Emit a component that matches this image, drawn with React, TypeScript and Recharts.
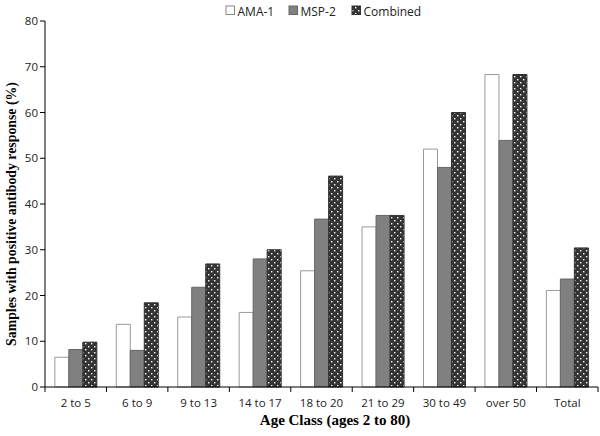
import { Bar, BarChart, Legend, XAxis, YAxis } from 'recharts';

const categories = ['2 to 5', '6 to 9', '9 to 13', '14 to 17', '18 to 20', '21 to 29', '30 to 49', 'over 50', 'Total'];
const ama1 = [6.5, 13.7, 15.3, 16.3, 25.4, 35.0, 52.0, 68.3, 21.1];
const msp2 = [8.2, 8.0, 21.8, 28.0, 36.7, 37.5, 48.0, 53.9, 23.6];
const combined = [9.8, 18.4, 26.9, 30.0, 46.1, 37.5, 60.0, 68.3, 30.4];
const yTicks = [0, 10, 20, 30, 40, 50, 60, 70, 80];

const data = categories.map((name, i) => ({ name, ama1: ama1[i], msp2: msp2[i], combined: combined[i] }));

const W = 600;
const H = 436;
const PLOT_TOP = 5;
const PLOT_BOTTOM = 387;
const PLOT_LEFT = 45;
const PLOT_RIGHT = 598;
const band = (PLOT_RIGHT - PLOT_LEFT) / categories.length;

const tickFont = { fontFamily: '"Open Sans", sans-serif', fontSize: 11.5, fill: '#222' };
const titleFont = { fontFamily: '"Liberation Serif", serif', fontWeight: 'bold' as const, fill: '#000' };

const XTick = (props: any) => {
    const { x, y, payload, index } = props;
    const last = index === categories.length - 1;
    return (
        <g>
            <line x1={x - band / 2} y1={y - 8} x2={x - band / 2} y2={y - 3} stroke="#000" />
            {last && <line x1={x + band / 2} y1={y - 8} x2={x + band / 2} y2={y - 3} stroke="#000" />}
            <text x={x} y={y + 12} textAnchor="middle" {...tickFont}>{payload.value}</text>
        </g>
    );
};

const XLabel = () => (
    <text x={335} y={425} textAnchor="middle" {...titleFont} fontSize={15}>
        Age Class (ages 2 to 80)
    </text>
);

const YLabel = () => {
    const cx = 11;
    const cy = 214;
    return (
        <text x={cx} y={cy} transform={`rotate(-90 ${cx} ${cy})`} textAnchor="middle" dominantBaseline="central" {...titleFont} fontSize={13.8}>
            Samples with positive antibody response (%)
        </text>
    );
};

const legendItems = [
    { label: 'AMA-1', fill: '#fff', stroke: '#888' },
    { label: 'MSP-2', fill: '#808080', stroke: '#666' },
    { label: 'Combined', fill: 'url(#dots)', stroke: '#333' },
];

const LegendContent = () => (
    <svg width={200} height={16}>
        {legendItems.map((it, i) => {
            const x0 = [1, 64, 127][i];
            return (
                <g key={it.label}>
                    <rect x={x0} y={3} width={8.5} height={8.5} fill={it.fill} stroke={it.stroke} />
                    <text x={x0 + 11.5} y={12.5} {...tickFont} fontSize={12}>{it.label}</text>
                </g>
            );
        })}
    </svg>
);

export default function App() {
    return (
        <div style={{ position: 'absolute', left: 0, top: 0, width: W, height: H, background: '#fff' }}>
            <BarChart
                width={W}
                height={H}
                data={data}
                margin={{ top: PLOT_TOP, right: W - PLOT_RIGHT, left: 0, bottom: 0 }}
                barCategoryGap="16%"
                barGap={0}
            >
                <defs>
                    <pattern id="dots" width={6} height={6} patternUnits="userSpaceOnUse">
                        <rect width={6} height={6} fill="#333" />
                        <rect x={1} y={1} width={1.4} height={1.4} fill="#fff" />
                        <rect x={4} y={4} width={1.4} height={1.4} fill="#fff" />
                    </pattern>
                </defs>
                <Legend
                    verticalAlign="top"
                    content={<LegendContent />}
                    wrapperStyle={{ position: 'absolute', top: 3, left: 225, width: 200, height: 16 }}
                />
                <XAxis
                    dataKey="name"
                    height={H - PLOT_BOTTOM}
                    axisLine={{ stroke: '#000' }}
                    tickLine={false}
                    tick={<XTick />}
                    interval={0}
                    label={<XLabel />}
                />
                <YAxis
                    width={PLOT_LEFT}
                    domain={[0, 80]}
                    ticks={yTicks}
                    interval={0}
                    axisLine={{ stroke: '#000' }}
                    tickLine={{ stroke: '#000' }}
                    tickSize={5}
                    tick={tickFont}
                    label={<YLabel />}
                />
                <Bar dataKey="ama1" name="AMA-1" fill="#fff" stroke="#999" isAnimationActive={false} />
                <Bar dataKey="msp2" name="MSP-2" fill="#808080" stroke="#666" isAnimationActive={false} />
                <Bar dataKey="combined" name="Combined" fill="url(#dots)" stroke="#333" isAnimationActive={false} />
            </BarChart>
        </div>
    );
}
